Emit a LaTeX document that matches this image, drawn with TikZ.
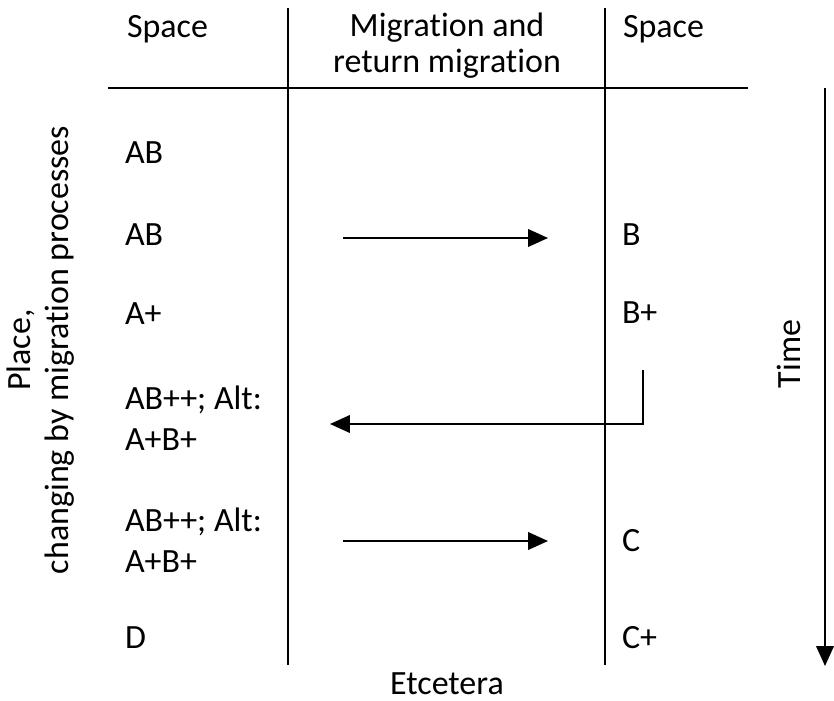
\documentclass[tikz,border=0pt]{standalone}
\usepackage{fontspec}
\setmainfont{Carlito}[Ligatures=NoCommon]
\usetikzlibrary{arrows.meta}
\begin{document}
\begin{tikzpicture}[x=0.03cm,y=-0.03cm,inner sep=0pt,outer sep=0pt,
line width=1.6pt,
cell/.style={anchor=base west,align=left,font=\fontsize{29}{34.6}\selectfont},
head/.style={align=center,font=\fontsize{29}{30}\selectfont},
flow/.style={-{Triangle[length=17pt,width=15pt]}}]
\useasboundingbox (0,0) rectangle (834,701);
% grid
\draw (108,88) -- (748,88);
\draw (288,8) -- (288,665);
\draw (605,8) -- (605,665);
% headers (base = last line)
\node[cell] (h1) at (127,37) {Space};
\node[head,anchor=base] (h2) at (447,72) {Migration and\\return migration};
\node[cell] (h3) at (623,37) {Space};
% left column
\node[cell] (a1) at (125,163) {AB};
\node[cell] (a2) at (125,245) {AB};
\node[cell] (a3) at (125,324) {A+};
\node[cell] (a4) at (125,450) {AB++; Alt:\\A+B+};
\node[cell] (a5) at (125,572) {AB++; Alt:\\A+B+};
\node[cell] (a6) at (125,648) {D};
% right column
\node[cell] (b2) at (622,245) {B};
\node[cell] (b3) at (622,323) {B+};
\node[cell] (b5) at (622,551) {C};
\node[cell] (b6) at (622,648) {C+};
\node[head,anchor=base] (etc) at (447,694) {Etcetera};
\node[head,rotate=90,font=\fontsize{29}{32.5}\selectfont] (place) at (41,350) {Place,\\changing by migration processes};
\node[head,rotate=90,anchor=base] (time) at (800,354) {Time};
% migration arrows
\coordinate (m1s) at (343,238);
\coordinate (m1e) at (548,238);
\coordinate (m2s) at (643,370);
\coordinate (m2k) at (643,424);
\coordinate (m2e) at (330,424);
\coordinate (m3s) at (343,541);
\coordinate (m3e) at (548,541);
\coordinate (t1) at (825,88);
\coordinate (t2) at (825,666);
\draw[flow] (m1s) -- (m1e);
\draw[flow] (m2s) -- (m2k) -- (m2e);
\draw[flow] (m3s) -- (m3e);
\draw[flow] (t1) -- (t2);
\end{tikzpicture}
\end{document}
